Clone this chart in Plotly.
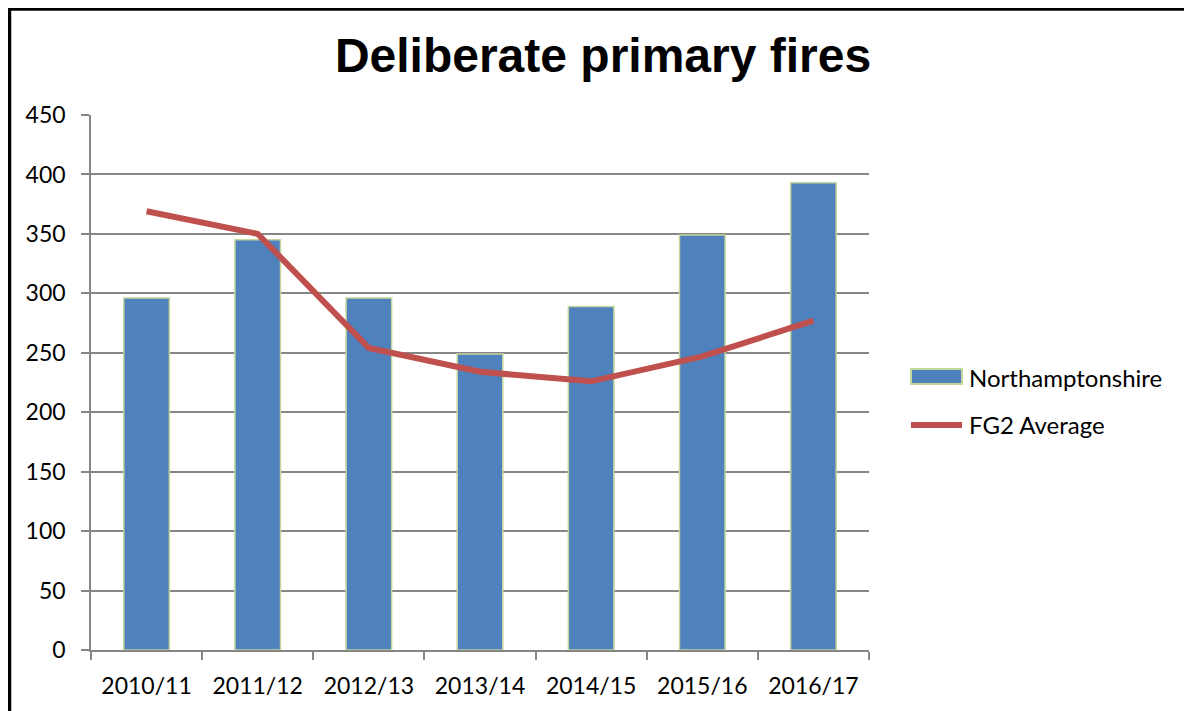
import plotly.graph_objects as go

categories = ["2010/11", "2011/12", "2012/13", "2013/14", "2014/15", "2015/16", "2016/17"]
northamptonshire = [296, 345, 296, 249, 289, 349, 393]
fg2_average = [369, 350, 254, 234, 226, 247, 277]
y_ticks = [0, 50, 100, 150, 200, 250, 300, 350, 400, 450]

BAR_COLOR = "#4F81BD"
BAR_EDGE = "#C3D69B"
LINE_COLOR = "#C0504D"
font_family = "Lato, 'Open Sans', sans-serif"

fig = go.Figure()
fig.add_trace(go.Bar(
    x=categories, y=northamptonshire, name="Northamptonshire",
    marker=dict(color=BAR_COLOR, line=dict(color=BAR_EDGE, width=1.5)),
))
fig.add_trace(go.Scatter(
    x=categories, y=fg2_average, name="FG2 Average", mode="lines",
    line=dict(color=LINE_COLOR, width=6),
))

# page body adds an 8px offset; margins compensate
L, R, T, B = 83, 331, 107, 69
PW = 1192 - L - R
PH = 711 - T - B

def px_x(sx):
    return (sx - 8 - L) / PW

def px_y(sy):
    return 1 - (sy - 8 - T) / PH

fig.update_layout(
    width=1192, height=711,
    margin=dict(l=L, r=R, t=T, b=B),
    paper_bgcolor="white", plot_bgcolor="white",
    bargap=0.59,
    showlegend=False,
    title=dict(text="<b>Deliberate primary fires</b>", x=(603 - 8) / 1192, xanchor="center",
               y=1 - (55 - 8) / 711, yanchor="middle",
               font=dict(family="Liberation Sans, Arial, sans-serif", size=48, color="black")),
    font=dict(family=font_family, size=23, color="black"),
)
fig.update_xaxes(
    showline=True, linecolor="#868686", linewidth=1.5,
    ticks="outside", tickson="boundaries", ticklen=8, tickcolor="#868686", tickwidth=1.5,
    ticklabelstandoff=15,
    tickfont=dict(family=font_family, size=23, color="black"),
    showgrid=False,
)
fig.update_yaxes(
    range=[0, 450], tickvals=y_ticks,
    showline=True, linecolor="#868686", linewidth=1.5,
    ticks="outside", ticklen=8, tickcolor="#868686", tickwidth=1.5,
    ticklabelstandoff=11,
    showgrid=True, gridcolor="#868686", gridwidth=1.5,
    tickfont=dict(family=font_family, size=23, color="black"),
    zeroline=False,
)

# chart frame: left and top edges
fig.add_shape(type="line", xref="paper", yref="paper", x0=px_x(9.5), x1=px_x(9.5),
              y0=px_y(725), y1=px_y(8), line=dict(color="black", width=3.5))
fig.add_shape(type="line", xref="paper", yref="paper", x0=px_x(8), x1=px_x(1205),
              y0=px_y(9.2), y1=px_y(9.2), line=dict(color="black", width=3))

# legend drawn manually to mirror the original symbols
fig.add_shape(type="rect", xref="paper", yref="paper",
              x0=px_x(911), x1=px_x(962), y0=px_y(384), y1=px_y(369),
              fillcolor=BAR_COLOR, line=dict(color=BAR_EDGE, width=2))
fig.add_shape(type="line", xref="paper", yref="paper",
              x0=px_x(911), x1=px_x(962), y0=px_y(425), y1=px_y(425),
              line=dict(color=LINE_COLOR, width=6))
fig.add_annotation(xref="paper", yref="paper", x=px_x(967), y=px_y(377),
                   text=fig.data[0].name, showarrow=False, xanchor="left", yanchor="middle",
                   font=dict(family=font_family, size=24, color="black"))
fig.add_annotation(xref="paper", yref="paper", x=px_x(967), y=px_y(424),
                   text=fig.data[1].name, showarrow=False, xanchor="left", yanchor="middle",
                   font=dict(family=font_family, size=24, color="black"))

fig.write_html("out.html")
